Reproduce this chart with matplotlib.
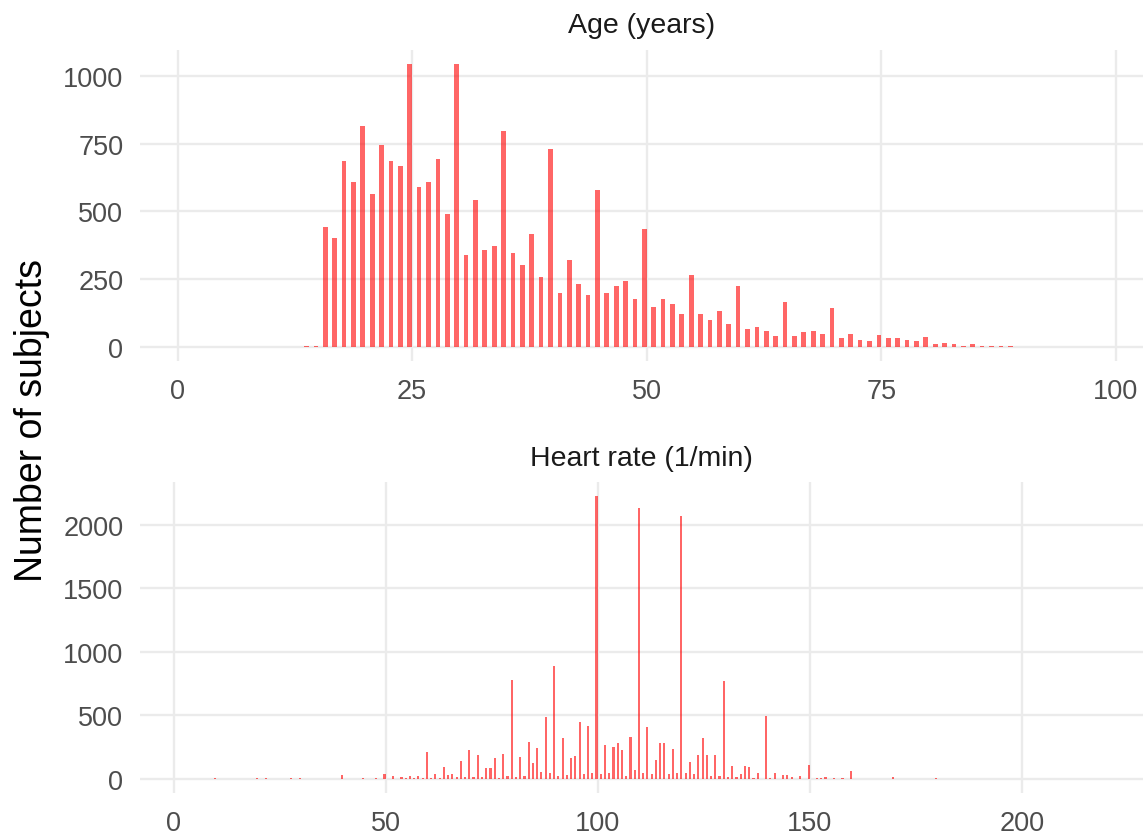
import matplotlib
matplotlib.use("Agg")
import matplotlib.pyplot as plt
import numpy as np

# ---- data -----------------------------------------------------------------
age_years = list(range(14, 97))
age_counts = [
    3, 3, 441, 401, 686, 610, 816, 565, 746, 684, 668, 1043, 590, 610, 694, 491,
    1043, 338, 540, 356, 372, 798, 347, 301, 415, 256, 731, 198, 320, 232, 193,
    579, 198, 225, 242, 175, 433, 147, 175, 157, 120, 267, 120, 99, 131, 86, 225,
    65, 73, 57, 40, 164, 40, 54, 58, 47, 142, 32, 46, 27, 22, 45, 31, 31, 27, 20,
    35, 12, 16, 12, 5, 10, 5, 3, 5, 3, 1, 1, 0, 0, 0, 1, 1,
]

hr_values = [
    10, 12, 14, 15, 18, 20, 22, 24, 25, 28, 30, 35, 40, 42, 44, 45, 46, 48,
    50, 52, 53, 54, 55, 56, 57, 58, 59, 60, 61, 62, 63, 64, 65, 66, 67, 68, 69,
    70, 71, 72, 73, 74, 75, 76, 77, 78, 79, 80, 81, 82, 83, 84, 85, 86, 87, 88,
    89, 90, 91, 92, 93, 94, 95, 96, 97, 98, 99, 100, 101, 102, 103, 104, 105,
    106, 107, 108, 109, 110, 111, 112, 113, 114, 115, 116, 117, 118, 119, 120,
    121, 122, 123, 124, 125, 126, 127, 128, 129, 130, 131, 132, 133, 134, 135,
    136, 137, 138, 139, 140, 141, 142, 143, 144, 145, 146, 147, 148, 149, 150,
    152, 153, 154, 156, 158, 160, 163, 164, 168, 170, 176, 180, 182, 190,
]
hr_counts = [
    5, 2, 2, 2, 2, 6, 4, 2, 2, 4, 6, 2, 34, 2, 2, 4, 2, 5,
    37, 21, 3, 16, 8, 24, 8, 26, 8, 212, 8, 42, 10, 92, 31, 39, 16, 141, 13,
    230, 18, 189, 12, 82, 82, 165, 10, 200, 23, 782, 16, 175, 26, 293, 126, 246, 52, 490,
    50, 893, 21, 325, 29, 162, 183, 450, 42, 414, 45, 2226, 37, 264, 45, 249, 280,
    225, 26, 330, 68, 2130, 45, 408, 42, 149, 285, 285, 42, 238, 45, 2070,
    45, 136, 37, 188, 325, 186, 21, 188, 21, 772, 13, 105, 13, 37, 105,
    92, 5, 45, 3, 492, 10, 50, 3, 34, 34, 18, 3, 26, 3, 107,
    8, 8, 13, 5, 8, 60, 2, 2, 2, 12, 2, 8, 2, 2,
]

panel_titles = ["Age (years)", "Heart rate (1/min)"]
y_label = "Number of subjects"

# ---- styling ---------------------------------------------------------------
plt.rcParams["font.family"] = ["Liberation Sans", "DejaVu Sans"]
BAR = "#ff0000"
GRID = "#ebebeb"
TICK = "#4d4d4d"

W, H = 1143, 837
fig = plt.figure(figsize=(W / 100, H / 100), dpi=100)


def px_axes(left, top, right, bottom):
    return fig.add_axes([left / W, 1 - bottom / H, (right - left) / W, (bottom - top) / H])


def style(ax, xticks, yticks):
    for s in ax.spines.values():
        s.set_visible(False)
    ax.set_xticks(xticks)
    ax.set_yticks(yticks)
    ax.grid(True, color=GRID, linewidth=1.7)
    ax.set_axisbelow(True)
    ax.tick_params(length=0, labelsize=19.5, labelcolor=TICK)
    ax.tick_params(axis="x", pad=12)
    ax.tick_params(axis="y", pad=12)


ax1 = px_axes(140, 51, 1143, 362)
ax1.bar(age_years, age_counts, width=-0.5, align="edge", color=BAR, alpha=0.6, linewidth=0)
ax1.set_xlim(-4.0, 102.9)
ax1.set_ylim(-52, 1095)
style(ax1, [0, 25, 50, 75, 100], [0, 250, 500, 750, 1000])

ax2 = px_axes(140, 483, 1143, 794)
ax2.bar(hr_values, hr_counts, width=-0.5, align="edge", color=BAR, alpha=0.6, linewidth=0)
ax2.set_xlim(-7.9, 228.6)
ax2.set_ylim(-111, 2338)
style(ax2, [0, 50, 100, 150, 200], [0, 500, 1000, 1500, 2000])

# facet strip titles
cx = (140 + 1143) / 2 / W
fig.text(cx, 1 - 33 / H, panel_titles[0], ha="center", va="baseline", fontsize=20.5, color="#1a1a1a")
fig.text(cx, 1 - 466 / H, panel_titles[1], ha="center", va="baseline", fontsize=20.5, color="#1a1a1a")

fig.text(32 / W, 1 - 421 / H, y_label, rotation=90, ha="center", va="center", fontsize=27, color="black")

fig.savefig("out.png", dpi=100)
